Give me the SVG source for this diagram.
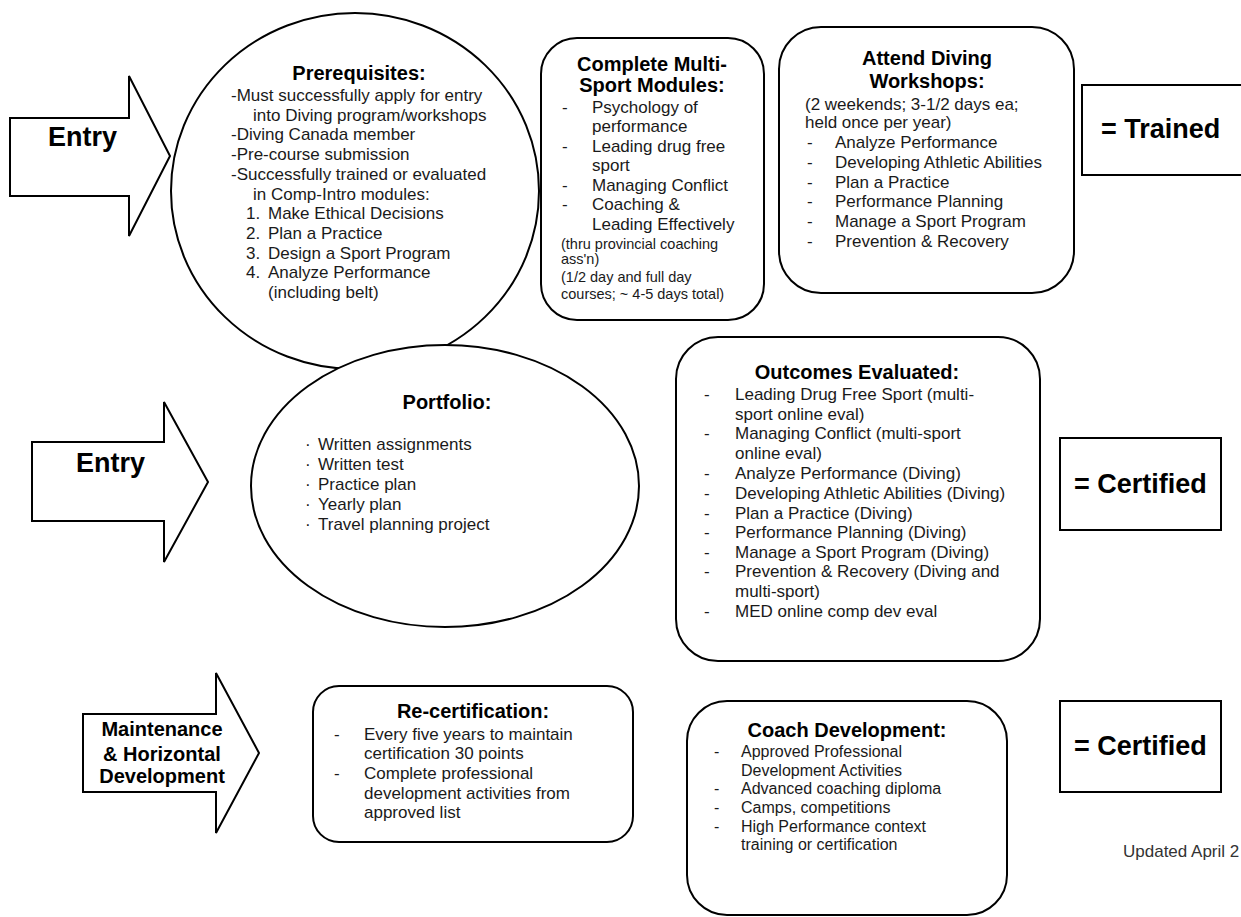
<svg xmlns="http://www.w3.org/2000/svg" width="1241" height="917" viewBox="0 0 1241 917">
  <style>
    .shape { fill: #fff; stroke: #000; stroke-width: 2; }
    .title { font-family: "Liberation Sans", Arial, sans-serif; font-weight: bold; font-size: 20px; fill: #000; text-anchor: middle; }
    .label { font-family: "Liberation Sans", Arial, sans-serif; font-weight: bold; fill: #000; }
    .body { font-family: "Liberation Sans", Arial, sans-serif; font-size: 17px; fill: #1a1a1a; }
    .small { font-family: "Liberation Sans", Arial, sans-serif; font-size: 14.5px; fill: #1a1a1a; }
    .coach { font-family: "Liberation Sans", Arial, sans-serif; font-size: 16px; fill: #1a1a1a; }
  </style>

  <rect width="1241" height="917" fill="#fff"/>

  <!-- Block arrows leading into each row -->
  <g id="connectors">
    <g id="arrow-entry-1">
      <polygon class="shape" points="10,118 129,118 129,76 170,156 129,236 129,196 10,196"/>
      <text class="label" x="48" y="146" font-size="27">Entry</text>
    </g>
    <g id="arrow-entry-2">
      <polygon class="shape" points="32,442 164,442 164,402 208,482 164,562 164,521 32,521"/>
      <text class="label" x="76" y="472" font-size="27">Entry</text>
    </g>
    <g id="arrow-maintenance">
      <polygon class="shape" points="83,714 216,714 216,673 259,753 216,833 216,792 83,792"/>
      <g class="label" font-size="20" text-anchor="middle">
        <text x="162" y="736">Maintenance</text>
        <text x="162" y="761">&amp; Horizontal</text>
        <text x="162" y="783">Development</text>
      </g>
    </g>
  </g>

  <!-- Row 1: training -->
  <g id="prerequisites">
    <ellipse class="shape" cx="355" cy="191" rx="184" ry="178"/>
    <text class="title" x="359" y="80">Prerequisites:</text>
    <g class="body">
      <text x="231" y="101">-Must successfully apply for entry</text>
      <text x="253" y="120.7">into Diving program/workshops</text>
      <text x="231" y="140.4">-Diving Canada member</text>
      <text x="231" y="160.1">-Pre-course submission</text>
      <text x="231" y="179.8">-Successfully trained or evaluated</text>
      <text x="253" y="199.5">in Comp-Intro modules:</text>
      <text x="246" y="219.2">1.</text><text x="268" y="219.2">Make Ethical Decisions</text>
      <text x="246" y="238.9">2.</text><text x="268" y="238.9">Plan a Practice</text>
      <text x="246" y="258.6">3.</text><text x="268" y="258.6">Design a Sport Program</text>
      <text x="246" y="278.3">4.</text><text x="268" y="278.3">Analyze Performance</text>
      <text x="268" y="298">(including belt)</text>
    </g>
  </g>

  <g id="multi-sport-modules">
    <rect class="shape" x="541" y="38" width="223" height="282" rx="36" ry="36"/>
    <text class="title" x="652" y="70.5" font-size="19">Complete Multi-</text>
    <text class="title" x="652" y="92" font-size="19">Sport Modules:</text>
    <g class="body">
      <text x="562" y="113.3">-</text><text x="592" y="113.3">Psychology of</text>
      <text x="592" y="132">performance</text>
      <text x="562" y="151.5">-</text><text x="592" y="151.5">Leading drug free</text>
      <text x="592" y="171">sport</text>
      <text x="562" y="190.5">-</text><text x="592" y="190.5">Managing Conflict</text>
      <text x="562" y="210">-</text><text x="592" y="210">Coaching &amp;</text>
      <text x="592" y="229.5">Leading Effectively</text>
    </g>
    <g class="small">
      <text x="561" y="248.5">(thru provincial coaching</text>
      <text x="561" y="264">ass'n)</text>
      <text x="561" y="282">(1/2 day and full day</text>
      <text x="561" y="298.5">courses; ~ 4-5 days total)</text>
    </g>
  </g>

  <g id="diving-workshops">
    <rect class="shape" x="779" y="27" width="295" height="266" rx="42" ry="42"/>
    <text class="title" x="927" y="65">Attend Diving</text>
    <text class="title" x="927" y="88.3">Workshops:</text>
    <g class="body">
      <text x="805" y="110">(2 weekends; 3-1/2 days ea;</text>
      <text x="805" y="128.3">held once per year)</text>
      <text x="807" y="148.3">-</text><text x="835" y="148.3">Analyze Performance</text>
      <text x="807" y="168">-</text><text x="835" y="168">Developing Athletic Abilities</text>
      <text x="807" y="187.7">-</text><text x="835" y="187.7">Plan a Practice</text>
      <text x="807" y="207.3">-</text><text x="835" y="207.3">Performance Planning</text>
      <text x="807" y="227">-</text><text x="835" y="227">Manage a Sport Program</text>
      <text x="807" y="246.7">-</text><text x="835" y="246.7">Prevention &amp; Recovery</text>
    </g>
  </g>

  <g id="result-trained">
    <rect class="shape" x="1082" y="85" width="170" height="90"/>
    <text class="label" x="1101" y="138" font-size="27">= Trained</text>
  </g>

  <!-- Row 2: certification -->
  <g id="portfolio">
    <ellipse class="shape" cx="445" cy="486" rx="194" ry="141"/>
    <text class="title" x="447" y="409.3">Portfolio:</text>
    <g class="body">
      <text x="305" y="450">·</text><text x="318" y="450">Written assignments</text>
      <text x="305" y="470">·</text><text x="318" y="470">Written test</text>
      <text x="305" y="490">·</text><text x="318" y="490">Practice plan</text>
      <text x="305" y="510">·</text><text x="318" y="510">Yearly plan</text>
      <text x="305" y="529.5">·</text><text x="318" y="529.5">Travel planning project</text>
    </g>
  </g>

  <g id="outcomes-evaluated">
    <rect class="shape" x="676" y="337" width="364" height="324" rx="42" ry="42"/>
    <text class="title" x="857" y="379.3">Outcomes Evaluated:</text>
    <g class="body">
      <text x="704" y="400">-</text><text x="735" y="400">Leading Drug Free Sport (multi-</text>
      <text x="735" y="419.5">sport online eval)</text>
      <text x="704" y="439.3">-</text><text x="735" y="439.3">Managing Conflict (multi-sport</text>
      <text x="735" y="459.3">online eval)</text>
      <text x="704" y="479">-</text><text x="735" y="479">Analyze Performance (Diving)</text>
      <text x="704" y="499">-</text><text x="735" y="499">Developing Athletic Abilities (Diving)</text>
      <text x="704" y="518.5">-</text><text x="735" y="518.5">Plan a Practice (Diving)</text>
      <text x="704" y="538.3">-</text><text x="735" y="538.3">Performance Planning (Diving)</text>
      <text x="704" y="557.7">-</text><text x="735" y="557.7">Manage a Sport Program (Diving)</text>
      <text x="704" y="577.3">-</text><text x="735" y="577.3">Prevention &amp; Recovery (Diving and</text>
      <text x="735" y="596.7">multi-sport)</text>
      <text x="704" y="616.7">-</text><text x="735" y="616.7">MED online comp dev eval</text>
    </g>
  </g>

  <g id="result-certified-1">
    <rect class="shape" x="1060" y="438" width="161" height="92"/>
    <text class="label" x="1074" y="493" font-size="27">= Certified</text>
  </g>

  <!-- Row 3: maintenance -->
  <g id="re-certification">
    <rect class="shape" x="313" y="686" width="320" height="156" rx="26" ry="26"/>
    <text class="title" x="473" y="718.3" font-size="19">Re-certification:</text>
    <g class="body">
      <text x="334" y="740">-</text><text x="364" y="740">Every five years to maintain</text>
      <text x="364" y="759.3">certification 30 points</text>
      <text x="334" y="779.3">-</text><text x="364" y="779.3">Complete professional</text>
      <text x="364" y="798.5">development activities from</text>
      <text x="364" y="818.3">approved list</text>
    </g>
  </g>

  <g id="coach-development">
    <rect class="shape" x="687" y="701" width="320" height="214" rx="40" ry="40"/>
    <text class="title" x="847" y="736.7">Coach Development:</text>
    <g class="coach">
      <text x="714" y="756.7">-</text><text x="741" y="756.7">Approved Professional</text>
      <text x="741" y="776">Development Activities</text>
      <text x="714" y="794.3">-</text><text x="741" y="794.3">Advanced coaching diploma</text>
      <text x="714" y="812.7">-</text><text x="741" y="812.7">Camps, competitions</text>
      <text x="714" y="831.7">-</text><text x="741" y="831.7">High Performance context</text>
      <text x="741" y="850">training or certification</text>
    </g>
  </g>

  <g id="result-certified-2">
    <rect class="shape" x="1060" y="701" width="161" height="91"/>
    <text class="label" x="1074" y="755" font-size="27">= Certified</text>
  </g>

  <text id="updated-note" x="1123" y="857" font-family="Liberation Sans, Arial, sans-serif" font-size="17" fill="#333">Updated April 2</text>
</svg>
